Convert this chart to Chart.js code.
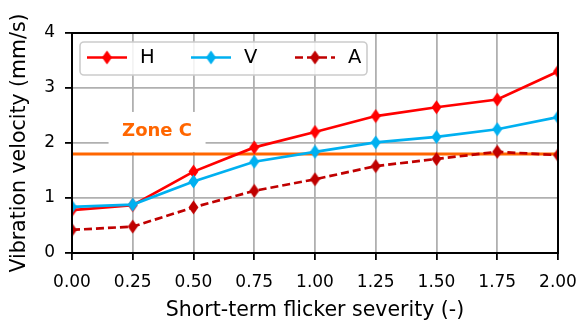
<!DOCTYPE html>
<html>
<head>
<meta charset="utf-8">
<script src="https://cdn.jsdelivr.net/npm/chart.js@4/dist/chart.umd.min.js"></script>
<style>
  html, body { margin: 0; padding: 0; background: #fff; }
  #wrap { width: 580px; height: 320px; }
</style>
</head>
<body>
<div id="wrap"><canvas id="flickerChart" width="580" height="320"></canvas></div>
<script>
// --- flicker severity vs. vibration velocity ---
const severity = [0, 0.25, 0.5, 0.75, 1.0, 1.25, 1.5, 1.75, 2.0];
const velH = [0.78, 0.87, 1.48, 1.92, 2.20, 2.49, 2.65, 2.79, 3.30];
const velV = [0.84, 0.88, 1.30, 1.66, 1.84, 2.01, 2.11, 2.25, 2.47];
const velA = [0.42, 0.48, 0.83, 1.13, 1.34, 1.58, 1.71, 1.84, 1.78];
const seriesNames = ['H', 'V', 'A'];
const zoneSpan = [0, 2];
const zoneCLimit = 1.8;
const zoneText = 'Zone C';

Chart.defaults.font.family = "'DejaVu Sans', sans-serif";
Chart.defaults.color = '#000';

// thin diamond marker, same shape as matplotlib's 'd'
function diamond(color) {
    const c = document.createElement('canvas');
    c.width = 11; c.height = 15;
    const g = c.getContext('2d');
    g.beginPath();
    g.moveTo(5.5, 0.5); g.lineTo(10.5, 7.5); g.lineTo(5.5, 14.5); g.lineTo(0.5, 7.5);
    g.closePath();
    g.fillStyle = color;
    g.fill();
    return c;
}

const pts = vals => severity.map((x, i) => ({ x, y: vals[i] }));

function series(label, vals, color, dash, order) {
    return {
        label, data: pts(vals), order,
        borderColor: color, backgroundColor: color,
        borderWidth: 2.7, borderDash: dash,
        pointStyle: diamond(color), pointRadius: 5,
        tension: 0, clip: 0, inLegend: true
    };
}

// white box + "Zone C" text above the limit line
const zoneLabel = {
    id: 'zoneLabel',
    beforeDatasetsDraw(chart) {
        const { ctx, scales: { x, y } } = chart;
        const cx = x.getPixelForValue(0.35), cy = y.getPixelForValue(2.21);
        ctx.save();
        ctx.fillStyle = '#fff';
        ctx.fillRect(cx - 48.5, cy - 19.5, 97, 40);
        ctx.font = "bold 18px 'DejaVu Sans'";
        ctx.fillStyle = '#ff6600';
        ctx.textAlign = 'center';
        ctx.textBaseline = 'middle';
        ctx.fillText(zoneText, cx, cy);
        ctx.restore();
    }
};

// four black spines on top of the lines
const frame = {
    id: 'frame',
    afterDatasetsDraw(chart) {
        const { ctx, chartArea: a } = chart;
        ctx.save();
        ctx.strokeStyle = '#000';
        ctx.lineWidth = 2;
        ctx.strokeRect(a.left, a.top, a.right - a.left, a.bottom - a.top);
        ctx.restore();
    }
};

// boxed legend inside the plot, line sample with marker in the middle
const boxLegend = {
    id: 'boxLegend',
    afterDraw(chart) {
        const { ctx, chartArea: a } = chart;
        const x0 = a.left + 8, y0 = a.top + 9, w = 287, h = 33, r = 4;
        ctx.save();
        ctx.beginPath();
        ctx.roundRect(x0, y0, w, h, r);
        ctx.fillStyle = 'rgba(255,255,255,0.85)';
        ctx.fill();
        ctx.strokeStyle = '#cccccc';
        ctx.lineWidth = 1.6;
        ctx.stroke();
        const items = chart.data.datasets.filter(d => d.inLegend);
        const cy = y0 + 15.5;
        items.forEach((d, i) => {
            const sx = x0 + 7 + i * 104;
            ctx.beginPath();
            ctx.setLineDash(d.borderDash || []);
            ctx.strokeStyle = d.borderColor;
            ctx.lineWidth = d.borderWidth;
            ctx.moveTo(sx, cy); ctx.lineTo(sx + 40, cy);
            ctx.stroke();
            ctx.setLineDash([]);
            const m = d.pointStyle;
            ctx.drawImage(m, sx + 20 - m.width / 2, cy - m.height / 2);
            ctx.font = "19.5px 'DejaVu Sans'";
            ctx.fillStyle = '#000';
            ctx.textBaseline = 'middle';
            ctx.fillText(d.label, sx + 53, cy + 0.5);
        });
        ctx.restore();
    }
};

const gridStyle = { color: '#b0b0b0', lineWidth: 1.8, tickColor: '#000', tickWidth: 1.8, tickLength: 7 };

new Chart(document.getElementById('flickerChart'), {
    type: 'line',
    data: {
        datasets: [
            series(seriesNames[0], velH, '#ff0000', [], 3),
            series(seriesNames[1], velV, '#00b0f0', [], 2),
            series(seriesNames[2], velA, '#c00000', [8, 4], 1),
            {
                label: zoneText,
                data: zoneSpan.map(x => ({ x, y: zoneCLimit })),
                borderColor: '#ff6600', borderWidth: 2.8,
                pointRadius: 0, clip: 0, order: 4
            }
        ]
    },
    options: {
        responsive: false,
        animation: false,
        events: [],
        layout: { padding: { left: 0, right: 22, top: 33, bottom: 0 } },
        plugins: { legend: { display: false }, tooltip: { enabled: false } },
        scales: {
            x: {
                type: 'linear', min: 0, max: 2,
                afterFit(s) { s.height = 67; s.paddingLeft = 0; s.paddingRight = 0; },
                border: { display: false },
                grid: gridStyle,
                ticks: { stepSize: 0.25, padding: 12, font: { size: 17 }, color: '#000',
                    callback: v => v.toFixed(2) },
                title: { display: true, text: 'Short-term flicker severity (-)', color: '#000',
                    font: { size: 20.5 }, padding: { top: 0, bottom: -3 } }
            },
            y: {
                min: 0, max: 4,
                afterFit(s) { s.width = 72; s.paddingTop = 0; s.paddingBottom = 0; },
                border: { display: false },
                grid: gridStyle,
                ticks: { stepSize: 1, padding: 10, font: { size: 17 }, color: '#000' },
                title: { display: true, text: 'Vibration velocity (mm/s)', color: '#000',
                    font: { size: 20.5 }, padding: { top: 7, bottom: 0 } }
            }
        }
    },
    plugins: [zoneLabel, frame, boxLegend]
});
</script>
</body>
</html>
